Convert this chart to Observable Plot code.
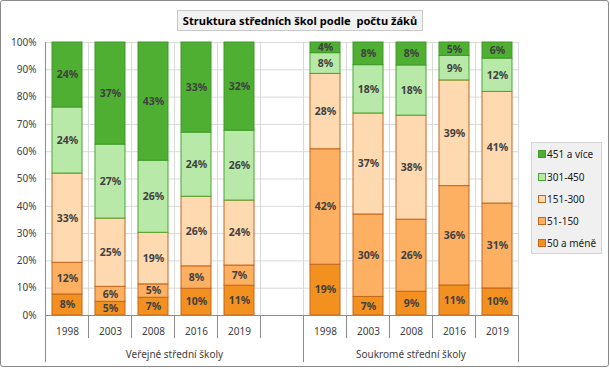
<!DOCTYPE html>
<html>
<head>
<meta charset="utf-8">
<script src="https://cdn.jsdelivr.net/npm/d3@7"></script>
<script src="https://cdn.jsdelivr.net/npm/@observablehq/plot@0.6"></script>
<style>
  html, body { margin: 0; padding: 0; background: #fff; }
  #wrap { position: relative; width: 610px; height: 369px; font-family: "Noto Sans", sans-serif; }
  #wrap svg { position: absolute; left: 0; top: 0; }
  #title { position: absolute; left: 177px; top: 10px; width: 244px; height: 19px; line-height: 19px;
    background: #f2f2f2; border: 1px solid #c8c8c8; text-align: center; font-weight: bold; font-size: 11.1px; color: #000; white-space: pre; }
  #legend { position: absolute; left: 531px; top: 142px; width: 69px; height: 110px; background: #f0f0f0; border: 1px solid #d4d4d4; font-size: 10px; color: #1a1a1a; }
  #legend .item { position: absolute; left: 6px; height: 12px; line-height: 12px; white-space: nowrap; }
  #legend .sw { display: inline-block; width: 6px; height: 6px; margin-right: 1px; vertical-align: 0px; }
  #frame { position: absolute; left: 0; top: 0; width: 607px; height: 365px; border: 1.5px solid #8a8a8a; border-radius: 3px; pointer-events: none; }
</style>
</head>
<body>
<div id="wrap">
  <div id="title">Struktura středních škol podle  počtu žáků</div>
  <div id="legend"></div>
  <div id="frame"></div>
</div>
<script>
// ---- data ----
const years = ["1998", "2003", "2008", "2016", "2019"];
const groups = ["Veřejné střední školy", "Soukromé střední školy"];
const series = ["50 a méně", "51-150", "151-300", "301-450", "451 a více"];

// Veřejné střední školy (share in %)
const pub_50 = [7.7, 5.0, 6.5, 9.8, 10.9];
const pub_51_150 = [11.6, 5.5, 4.9, 8.2, 7.4];
const pub_151_300 = [32.7, 25.0, 18.9, 25.5, 23.8];
const pub_301_450 = [24.2, 27.1, 26.4, 23.5, 25.6];
const pub_451 = [23.8, 37.4, 43.3, 33.0, 32.3];
// Soukromé střední školy (share in %)
const priv_50 = [18.6, 6.8, 8.7, 11.0, 9.9];
const priv_51_150 = [42.3, 30.2, 26.4, 36.4, 31.1];
const priv_151_300 = [27.6, 37.0, 38.1, 38.7, 40.9];
const priv_301_450 = [7.6, 17.7, 18.4, 9.0, 12.2];
const priv_451 = [3.9, 8.3, 8.4, 4.9, 5.9];

const yTicks = [0, 10, 20, 30, 40, 50, 60, 70, 80, 90, 100];

// ---- styles ----
const fillColors = {"50 a méně": "#f29020", "51-150": "#fdb062", "151-300": "#ffdab1", "301-450": "#b8e9a9", "451 a více": "#4eaf33"};
const strokeColors = {"50 a méně": "#c4661c", "51-150": "#c4661c", "151-300": "#c4661c", "301-450": "#47a82e", "451 a více": "#3f9a28"};

// ---- build table ----
const pubSeries = [pub_50, pub_51_150, pub_151_300, pub_301_450, pub_451];
const privSeries = [priv_50, priv_51_150, priv_151_300, priv_301_450, priv_451];
const key = (g, y) => g + "|" + y;
const domain = [...years.map(y => key(0, y)), key(0, "gap"), ...years.map(y => key(1, y))];
const rows = [];
[pubSeries, privSeries].forEach((grp, gi) => {
  years.forEach((yr, yi) => {
    series.forEach((s, si) => rows.push({k: key(gi, yr), group: gi, year: yr, series: s, value: grp[si][yi]}));
  });
});

const W = 610, H = 369;
const chart = Plot.plot({
  width: W, height: H,
  marginLeft: 45, marginRight: 92, marginTop: 42, marginBottom: 54,
  style: {fontFamily: "Noto Sans, sans-serif", fontSize: "10px", color: "#404040", background: "transparent"},
  x: {domain, paddingInner: 0.31, paddingOuter: 0.155, align: 0.5, label: null, tickSize: 0, tickPadding: 12,
      tickFormat: k => k.endsWith("gap") ? "" : k.split("|")[1]},
  y: {domain: [0, 100], label: null, ticks: yTicks, tickSize: 0, tickPadding: 9, tickFormat: d => d + "%"},
  color: {type: "identity"},
  marks: [
    Plot.ruleY(yTicks, {stroke: "#d9d9d9"}),
    Plot.barY(rows, Plot.stackY({x: "k", y: "value", fill: d => fillColors[d.series], stroke: d => strokeColors[d.series], strokeWidth: 1})),
    Plot.text(rows, Plot.stackY({x: "k", y: "value", text: d => Math.round(d.value) + "%", fill: "#404040", fontWeight: "bold", fontSize: 10.5})),
    Plot.ruleY([0], {stroke: "#8c8c8c"})
  ]
});

const wrap = document.getElementById("wrap");
wrap.insertBefore(chart, wrap.firstChild);

// category-axis furniture (gridlines between categories, separators, group labels) via Plot's x scale
const xs = chart.scale("x"), ys = chart.scale("y");
const step = xs.step, bw = xs.bandwidth;
const edge = k => xs.apply(k) - (step - bw) / 2;
const y0 = ys.apply(0), y100 = ys.apply(100);
const svg = d3.select(chart);
const under = svg.insert("g", "g");
const bounds = domain.map(edge).concat([edge(domain[domain.length - 1]) + step]);
under.selectAll("line").data(bounds.slice(1)).join("line")
  .attr("x1", d => d).attr("x2", d => d).attr("y1", y100).attr("y2", y0)
  .attr("stroke", "#d9d9d9");
const over = svg.append("g").attr("stroke", "#8c8c8c");
const groupEdges = [bounds[0], bounds[6], bounds[11]];
bounds.forEach((b, i) => {
  const isGroup = groupEdges.includes(b);
  over.append("line").attr("x1", b).attr("x2", b)
    .attr("y1", i === 0 ? y100 : y0).attr("y2", isGroup ? y0 + 47 : y0 + 23);
});
const gl = svg.append("g").attr("font-size", 10).attr("fill", "#404040").attr("text-anchor", "middle");
gl.append("text").attr("x", (bounds[0] + bounds[6]) / 2).attr("y", y0 + 43).text(groups[0]);
gl.append("text").attr("x", (bounds[6] + bounds[11]) / 2).attr("y", y0 + 43).text(groups[1]);

// legend
const legend = document.getElementById("legend");
const legendTops = [5, 28, 50, 72, 94];
series.slice().reverse().forEach((s, i) => {
  const it = document.createElement("div");
  it.className = "item";
  it.style.top = legendTops[i] + "px";
  it.innerHTML = `<span class="sw" style="background:${fillColors[s]};border:1px solid ${strokeColors[s]}"></span>${s}`;
  legend.appendChild(it);
});
</script>
</body>
</html>
